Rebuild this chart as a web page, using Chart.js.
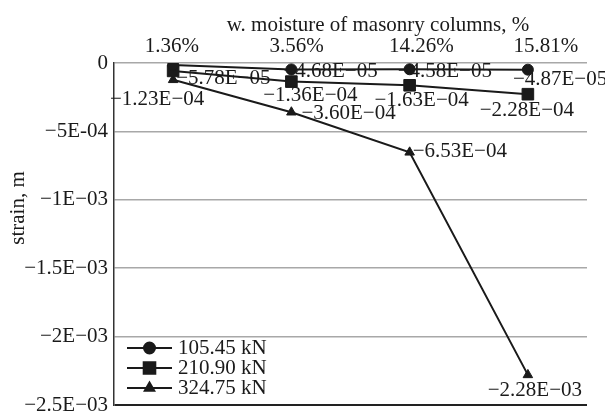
<!DOCTYPE html>
<html><head><meta charset="utf-8">
<script src="https://cdn.jsdelivr.net/npm/chart.js@4"></script>
<style>html,body{margin:0;padding:0;background:#fff}#wrap{width:605px;height:411px;position:relative}</style>
</head><body><div id="wrap"><canvas id="c"></canvas></div>
<script>
// ---- data ----
const categories = ['1.36%', '3.56%', '14.26%', '15.81%'];
const seriesNames = ['105.45 kN', '210.90 kN', '324.75 kN'];
const s105 = [-1.5e-5, -4.68e-5, -4.58e-5, -4.87e-5];
const s210 = [-5.78e-5, -1.36e-4, -1.63e-4, -2.28e-4];
const s324 = [-1.23e-4, -3.60e-4, -6.53e-4, -2.28e-3];
const yTickValues = [0, -5e-4, -1e-3, -1.5e-3, -2e-3, -2.5e-3];
const yTickLabels = ['0', '\u22125E-04', '\u22121E\u221203', '\u22121.5E\u221203', '\u22122E\u221203', '\u22122.5E\u221203'];
const xTitle = 'w. moisture of masonry columns, %';
const yTitle = 'strain, m';
// which data labels are shown (first circle label is hidden in the original)
const showLabel = [[false, true, true, true], [true, true, true, true], [true, true, true, true]];

// ---- styling / placement ----
const FONT = "'Liberation Serif', 'Times New Roman', serif";
const INK = '#1a1a1a';
const labelPlacement = [
  [null, {dx: -8, dy: 2, align: 'left'}, {dx: -12, dy: 2, align: 'left'}, {dx: -15, dy: 10, align: 'left'}],
  [{dx: 3, dy: 8, align: 'left'}, {dx: 19, dy: 14, align: 'center'}, {dx: 12, dy: 15, align: 'center'}, {dx: -1, dy: 16, align: 'center'}],
  [{dx: -16, dy: 20, align: 'center'}, {dx: 10, dy: 1, align: 'left'}, {dx: 3, dy: -1, align: 'left'}, {dx: 7, dy: 16, align: 'center'}]
];
const styles = [
  {pointStyle: 'circle', radius: 5.5},
  {pointStyle: 'rect', radius: 8.2},
  {pointStyle: 'triangle', radius: 5.5}
];

function fmt(v) {
  let e = Math.floor(Math.log10(Math.abs(v)));
  let m = Math.abs(v) / Math.pow(10, e);
  let s = m.toFixed(2) + 'E' + (e < 0 ? '\u2212' : '+') + String(Math.abs(e)).padStart(2, '0');
  return (v < 0 ? '\u2212' : '') + s;
}

const seriesValues = [s105, s210, s324];

const labelsPlugin = {
  id: 'pointLabels',
  beforeDatasetsDraw(chart) {
    const ctx = chart.ctx;
    ctx.save();
    ctx.font = '21px ' + FONT;
    ctx.fillStyle = INK;
    ctx.textBaseline = 'middle';
    seriesValues.forEach((vals, di) => {
      const meta = chart.getDatasetMeta(di);
      vals.forEach((v, i) => {
        const p = labelPlacement[di][i];
        if (!showLabel[di][i] || !p) return;
        const el = meta.data[i];
        ctx.textAlign = p.align;
        ctx.fillText(fmt(v), el.x + p.dx, el.y + p.dy);
      });
    });
    ctx.restore();
  }
};

const titlesPlugin = {
  id: 'axisTitles',
  afterDraw(chart) {
    const ctx = chart.ctx;
    ctx.save();
    ctx.font = '21px ' + FONT;
    ctx.fillStyle = INK;
    ctx.textAlign = 'center';
    ctx.textBaseline = 'middle';
    ctx.fillText(xTitle, 378, 25);
    ctx.translate(18, 208);
    ctx.rotate(-Math.PI / 2);
    ctx.fillText(yTitle, 0, 0);
    ctx.restore();
  }
};

const legendPlugin = {
  id: 'lineLegend',
  afterDraw(chart) {
    const ctx = chart.ctx;
    const a = chart.chartArea;
    ctx.save();
    ctx.font = '21px ' + FONT;
    ctx.textBaseline = 'middle';
    ctx.textAlign = 'left';
    seriesNames.forEach((name, i) => {
      const y = a.bottom - 57 + i * 20;
      const x0 = a.left + 13, x1 = a.left + 58;
      ctx.strokeStyle = INK;
      ctx.lineWidth = 2;
      ctx.beginPath(); ctx.moveTo(x0, y); ctx.lineTo(x1, y); ctx.stroke();
      ctx.fillStyle = INK;
      Chart.helpers.drawPoint(ctx, {pointStyle: styles[i].pointStyle, radius: styles[i].radius, rotation: 0, borderWidth: 1}, (x0 + x1) / 2, y);
      ctx.fillStyle = INK;
      ctx.fillText(name, a.left + 64, y);
    });
    ctx.restore();
  }
};

const datasets = seriesValues.map((vals, i) => ({
  label: seriesNames[i],
  data: vals,
  borderColor: INK,
  backgroundColor: INK,
  borderWidth: 2,
  pointStyle: styles[i].pointStyle,
  pointRadius: styles[i].radius,
  pointHoverRadius: styles[i].radius,
  pointBackgroundColor: INK,
  pointBorderColor: INK,
  pointBorderWidth: 1,
  tension: 0,
  fill: false
}));

new Chart(document.getElementById('c'), {
  type: 'line',
  data: {labels: categories, datasets},
  options: {
    responsive: true,
    maintainAspectRatio: false,
    animation: false,
    devicePixelRatio: 1,
    layout: {autoPadding: false, padding: {left: 0, right: 18, top: 0, bottom: 6}},
    plugins: {legend: {display: false}, tooltip: {enabled: false}},
    scales: {
      x: {
        type: 'category',
        position: 'top',
        offset: true,
        display: false
      },
      xLab: {
        type: 'linear',
        position: 'top',
        min: -0.465,
        max: 3.329,
        grid: {display: false, drawTicks: false},
        border: {display: false},
        afterBuildTicks(scale) { scale.ticks = categories.map((c, i) => ({value: i})); },
        ticks: {
          font: {family: FONT, size: 21}, color: INK, padding: 4, maxRotation: 0, autoSkip: false,
          callback(value) { return categories[Math.round(value)]; }
        },
        afterFit(scale) { scale.height = 63; scale.paddingLeft = 0; scale.paddingRight = 0; }
      },
      y: {
        min: -2.5e-3,
        max: 0,
        afterBuildTicks(scale) { scale.ticks = yTickValues.slice().sort((a, b) => a - b).map(v => ({value: v})); },
        ticks: {
          font: {family: FONT, size: 21},
          color: INK,
          padding: 6,
          callback(value) {
            const k = yTickValues.findIndex(t => Math.abs(t - value) < 1e-9);
            return k >= 0 ? yTickLabels[k] : '';
          }
        },
        grid: {
          drawTicks: false,
          color: c => (c.tick && Math.abs(c.tick.value + 2.5e-3) < 1e-9) ? '#222' : '#a8a8a8',
          lineWidth: c => (c.tick && Math.abs(c.tick.value + 2.5e-3) < 1e-9) ? 2 : 1.5
        },
        border: {display: true, color: '#333', width: 1.5},
        afterFit(scale) { scale.width = 114; scale.paddingTop = 0; scale.paddingBottom = 0; }
      }
    }
  },
  plugins: [labelsPlugin, titlesPlugin, legendPlugin]
});
</script>
</body></html>
